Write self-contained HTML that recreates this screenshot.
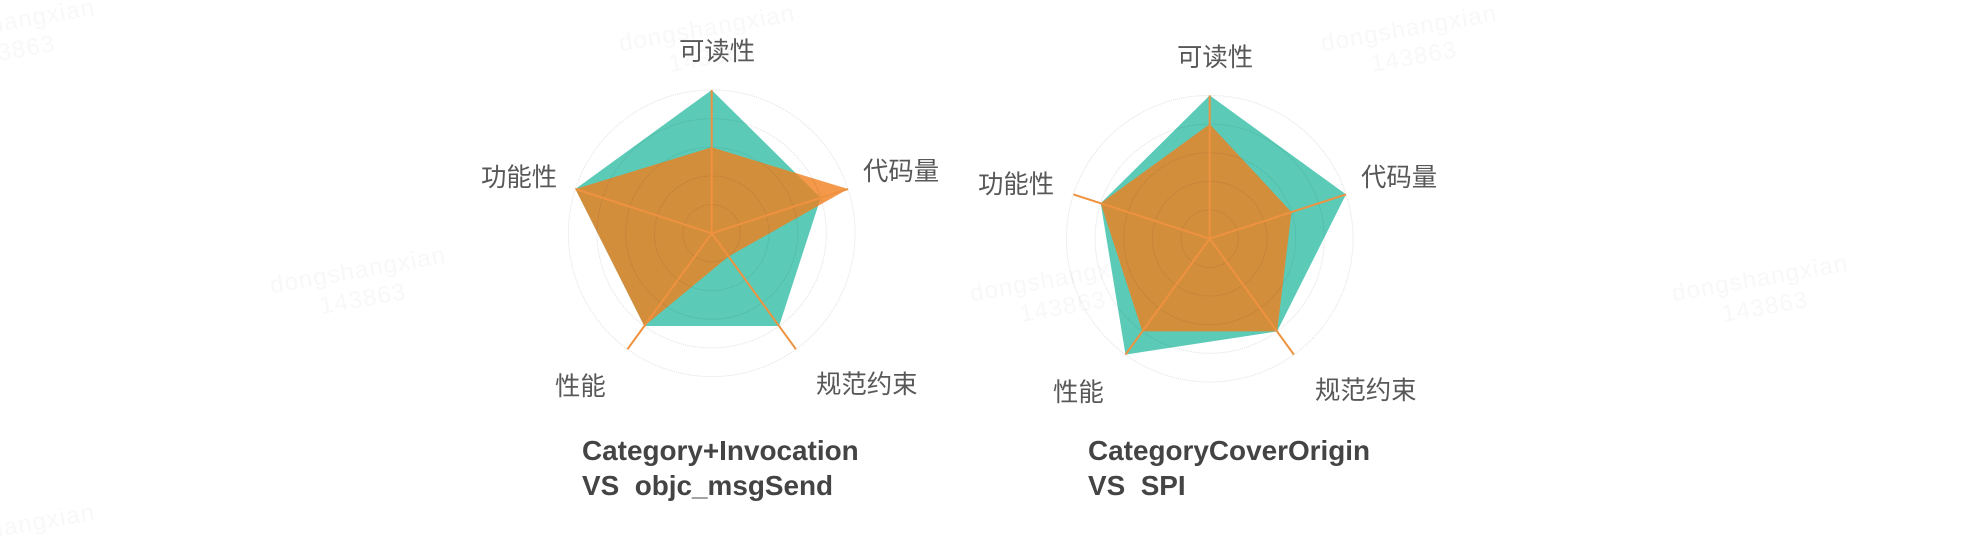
<!DOCTYPE html>
<html>
<head>
<meta charset="utf-8">
<style>
html,body{margin:0;padding:0;background:#fff;}
svg{display:block;}
.wm{font-family:"Liberation Sans",sans-serif;font-size:24px;fill:#f8f8f8;letter-spacing:1.2px;text-anchor:middle;}
.lb{font-family:"Liberation Sans","Noto Sans CJK SC",sans-serif;font-size:25.4px;fill:#585858;}
.tt{font-family:"Liberation Sans",sans-serif;font-size:27.9px;font-weight:bold;fill:#444;}
.ring{fill:none;stroke:#000;stroke-opacity:.12;stroke-width:1;stroke-dasharray:1 1;}
.ax{stroke:#EE9240;stroke-width:2;fill:none;}
</style>
</head>
<body>
<svg width="1970" height="542" viewBox="0 0 1970 542" xmlns="http://www.w3.org/2000/svg">
<rect width="1970" height="542" fill="#fff"/>

<g class="wm">
<g transform="rotate(-10 7 22)"><text x="7" y="30">dongshangxian</text><text x="7" y="59">143863</text></g>
<g transform="rotate(-10 707 28)"><text x="707" y="36">dongshangxian</text><text x="707" y="65">143863</text></g>
<g transform="rotate(-10 1409 28)"><text x="1409" y="36">dongshangxian</text><text x="1409" y="65">143863</text></g>
<g transform="rotate(-10 358 270)"><text x="358" y="278">dongshangxian</text><text x="358" y="307">143863</text></g>
<g transform="rotate(-10 1058 278)"><text x="1058" y="286">dongshangxian</text><text x="1058" y="315">143863</text></g>
<g transform="rotate(-10 1760 278)"><text x="1760" y="286">dongshangxian</text><text x="1760" y="315">143863</text></g>
<g transform="rotate(-10 7 527)"><text x="7" y="535">dongshangxian</text></g>
</g>

<g transform="translate(711.7 233.3)">
<polygon points="0,-143.3 109,-35.4 67.4,92.7 -67.4,92.7 -136.3,-44.3" fill="#5BCBB8"/>
<polygon points="0,-86 136.3,-44.3 16.8,23.2 -67.4,92.7 -136.3,-44.3" fill="#F17E1D" fill-opacity=".8"/>
<circle class="ring" r="28.7"/><circle class="ring" r="57.3"/><circle class="ring" r="86"/><circle class="ring" r="114.6"/><circle class="ring" r="143.3"/>
<path class="ax" d="M0,0L0,-143.3M0,0L136.3,-44.3M0,0L84.2,115.9M0,0L-84.2,115.9M0,0L-136.3,-44.3"/>
</g>

<g transform="translate(1209.7 238.7)">
<polygon points="0,-143.3 136.3,-44.3 67.4,92.7 -84.2,115.9 -109,-35.4" fill="#5BCBB8"/>
<polygon points="0,-114.6 81.8,-26.6 67.4,92.7 -67.4,92.7 -109,-35.4" fill="#F17E1D" fill-opacity=".8"/>
<circle class="ring" r="28.7"/><circle class="ring" r="57.3"/><circle class="ring" r="86"/><circle class="ring" r="114.6"/><circle class="ring" r="143.3"/>
<path class="ax" d="M0,0L0,-143.3M0,0L136.3,-44.3M0,0L84.2,115.9M0,0L-84.2,115.9M0,0L-136.3,-44.3"/>
</g>

<text class="lb" x="679" y="60">可读性</text>
<text class="lb" x="863" y="180">代码量</text>
<text class="lb" x="481" y="186">功能性</text>
<text class="lb" x="555" y="395">性能</text>
<text class="lb" x="816" y="393">规范约束</text>

<text class="lb" x="1177" y="66">可读性</text>
<text class="lb" x="1361" y="186">代码量</text>
<text class="lb" x="978" y="193">功能性</text>
<text class="lb" x="1053" y="401">性能</text>
<text class="lb" x="1315" y="399">规范约束</text>

<text class="tt" x="582" y="460">Category+Invocation</text>
<text class="tt" x="582" y="495" xml:space="preserve">VS&#160;&#160;objc_msgSend</text>
<text class="tt" x="1088" y="460">CategoryCoverOrigin</text>
<text class="tt" x="1088" y="495" xml:space="preserve">VS&#160;&#160;SPI</text>
</svg>
</body>
</html>
